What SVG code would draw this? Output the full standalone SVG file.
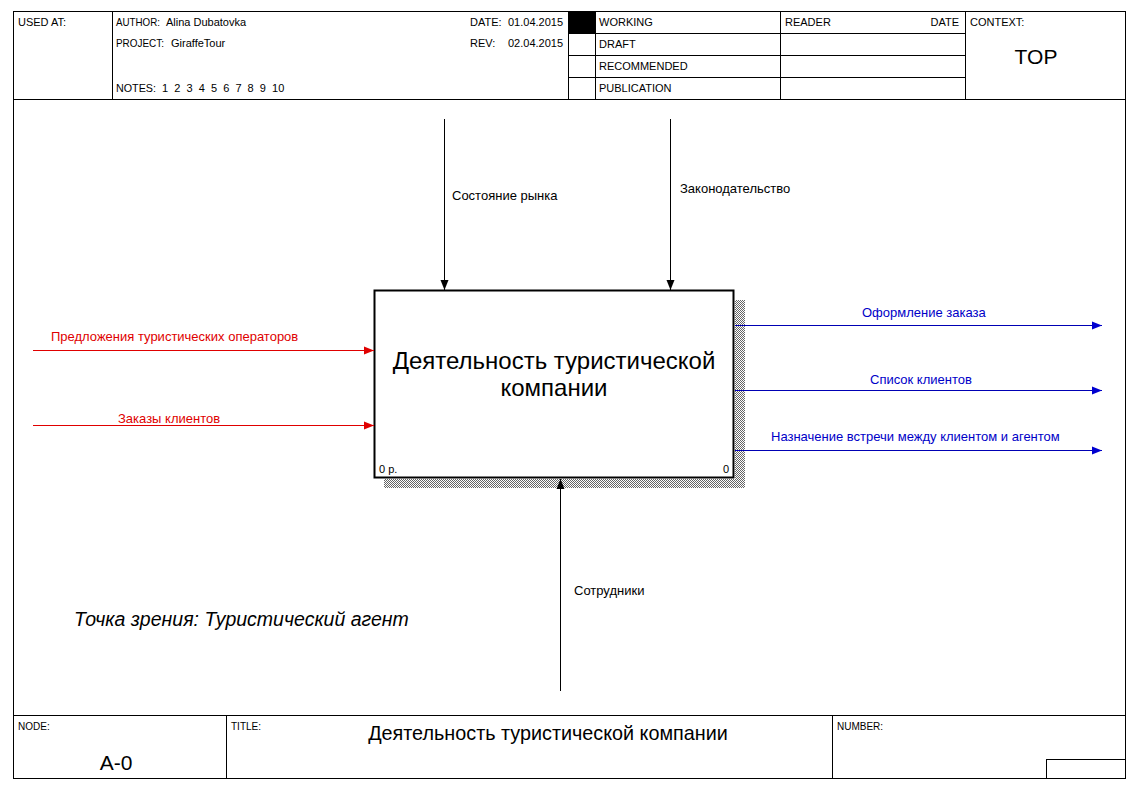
<svg xmlns="http://www.w3.org/2000/svg" width="1143" height="799" viewBox="0 0 1143 799">
<style>
text{font-family:"Liberation Sans",Arial,sans-serif;}
.h{font-size:11px;fill:#000;}
.f{font-size:10px;fill:#000;}
.fr{stroke:#000;stroke-width:1;fill:none;}
.lbl{font-size:13px;fill:#000;}
.red{fill:#e00000;}
.blue{fill:#0000c8;}
.ck{stroke:#000;stroke-width:1;fill:none;}
.cr{stroke:#e00000;stroke-width:1;fill:none;}
.cb{stroke:#0000b4;stroke-width:1;fill:none;}
</style>
<defs>
<pattern id="hatch" width="2" height="2" patternUnits="userSpaceOnUse">
<rect width="2" height="2" fill="#fff"/>
<rect width="1" height="1" fill="#666"/>
<rect x="1" y="1" width="1" height="1" fill="#666"/>
</pattern>
<marker id="ak" markerWidth="10" markerHeight="10" refX="10" refY="5" orient="auto" markerUnits="userSpaceOnUse"><path d="M0,1 L10,5 L0,9 z" fill="#000"/></marker>
<marker id="ar" markerWidth="10" markerHeight="10" refX="10" refY="5" orient="auto" markerUnits="userSpaceOnUse"><path d="M0,1 L10,5 L0,9 z" fill="#e00000"/></marker>
<marker id="ab" markerWidth="10" markerHeight="10" refX="10" refY="5" orient="auto" markerUnits="userSpaceOnUse"><path d="M0,1 L10,5 L0,9 z" fill="#0000d0"/></marker>
</defs>
<rect width="1143" height="799" fill="#fff"/>
<g id="frame">
<rect class="fr" x="13.5" y="11.5" width="1112" height="767"/>
<line class="fr" x1="13" y1="99.5" x2="1126" y2="99.5"/>
<line class="fr" x1="112.5" y1="11" x2="112.5" y2="99"/>
<line class="fr" x1="568.5" y1="11" x2="568.5" y2="99"/>
<line class="fr" x1="595.5" y1="11" x2="595.5" y2="99"/>
<line class="fr" x1="780.5" y1="11" x2="780.5" y2="99"/>
<line class="fr" x1="965.5" y1="11" x2="965.5" y2="99"/>
<line class="fr" x1="568" y1="33.5" x2="965" y2="33.5"/>
<line class="fr" x1="568" y1="55.5" x2="965" y2="55.5"/>
<line class="fr" x1="568" y1="77.5" x2="965" y2="77.5"/>
<rect x="569" y="12" width="26" height="21" fill="#000"/>
<text class="h" x="18" y="26">USED AT:</text>
<text class="h" x="116" y="26" textLength="44" lengthAdjust="spacingAndGlyphs">AUTHOR:</text>
<text class="h" x="166" y="26">Alina Dubatovka</text>
<text class="h" x="116" y="47" textLength="48" lengthAdjust="spacingAndGlyphs">PROJECT:</text>
<text class="h" x="171" y="47">GiraffeTour</text>
<text class="h" x="116" y="92" textLength="40" lengthAdjust="spacingAndGlyphs">NOTES:</text>
<text class="h" x="162" y="92" xml:space="preserve">1  2  3  4  5  6  7  8  9  10</text>
<text class="h" x="470" y="26">DATE:</text>
<text class="h" x="508" y="26">01.04.2015</text>
<text class="h" x="470" y="47">REV:</text>
<text class="h" x="508" y="47">02.04.2015</text>
<text class="h" x="599" y="26">WORKING</text>
<text class="h" x="599" y="48">DRAFT</text>
<text class="h" x="599" y="70">RECOMMENDED</text>
<text class="h" x="599" y="92">PUBLICATION</text>
<text class="h" x="785" y="26">READER</text>
<text class="h" x="959" y="26" text-anchor="end">DATE</text>
<text class="h" x="970" y="26">CONTEXT:</text>
<text x="1036" y="64" font-size="21" text-anchor="middle">TOP</text>
<line class="fr" x1="13" y1="715.5" x2="1126" y2="715.5" stroke-width="1.5"/>
<line class="fr" x1="226.5" y1="715" x2="226.5" y2="778"/>
<line class="fr" x1="832.5" y1="715" x2="832.5" y2="778"/>
<rect class="fr" x="1046.5" y="759.5" width="79" height="19"/>
<text class="f" x="18" y="730">NODE:</text>
<text class="f" x="231" y="730">TITLE:</text>
<text class="f" x="837" y="730">NUMBER:</text>
<text x="116" y="770" font-size="21" text-anchor="middle">A-0</text>
<text x="548" y="740" font-size="19.8" text-anchor="middle">Деятельность туристической компании</text>
</g>
<g id="node-A0">
<rect x="735" y="300" width="10" height="188" fill="url(#hatch)"/>
<rect x="384" y="479" width="361" height="9" fill="url(#hatch)"/>
<rect x="374.5" y="290.5" width="359" height="187" fill="#fff" stroke="#000" stroke-width="2"/>
<text x="554" y="369" font-size="24" text-anchor="middle">Деятельность туристической</text>
<text x="554" y="396" font-size="24" text-anchor="middle">компании</text>
<text x="379" y="473" font-size="11">0 р.</text>
<text x="729" y="473" font-size="11" text-anchor="end">0</text>
</g>
<g id="connectors">
<line class="ck" x1="444.5" y1="119" x2="444.5" y2="290" marker-end="url(#ak)"/>
<line class="ck" x1="670.5" y1="119" x2="670.5" y2="290" marker-end="url(#ak)"/>
<line class="ck" x1="560.5" y1="691" x2="560.5" y2="479" marker-end="url(#ak)"/>
<line class="cr" x1="33" y1="350.5" x2="374" y2="350.5" marker-end="url(#ar)"/>
<line class="cr" x1="33" y1="425.5" x2="374" y2="425.5" marker-end="url(#ar)"/>
<line class="cb" x1="735" y1="325.5" x2="1102" y2="325.5" marker-end="url(#ab)"/>
<line class="cb" x1="735" y1="390.5" x2="1102" y2="390.5" marker-end="url(#ab)"/>
<line class="cb" x1="735" y1="450.5" x2="1102" y2="450.5" marker-end="url(#ab)"/>
<text class="lbl" x="452" y="200">Состояние рынка</text>
<text class="lbl" x="680" y="193">Законодательство</text>
<text class="lbl" x="574" y="595">Сотрудники</text>
<text class="lbl red" x="51" y="341">Предложения туристических операторов</text>
<text class="lbl red" x="118" y="423">Заказы клиентов</text>
<text class="lbl blue" x="862" y="317">Оформление заказа</text>
<text class="lbl blue" x="870" y="384">Список клиентов</text>
<text class="lbl blue" x="771" y="441">Назначение встречи между клиентом и агентом</text>
</g>
<text x="74" y="626" font-size="19.5" font-style="italic">Точка зрения: Туристический агент</text>
</svg>
